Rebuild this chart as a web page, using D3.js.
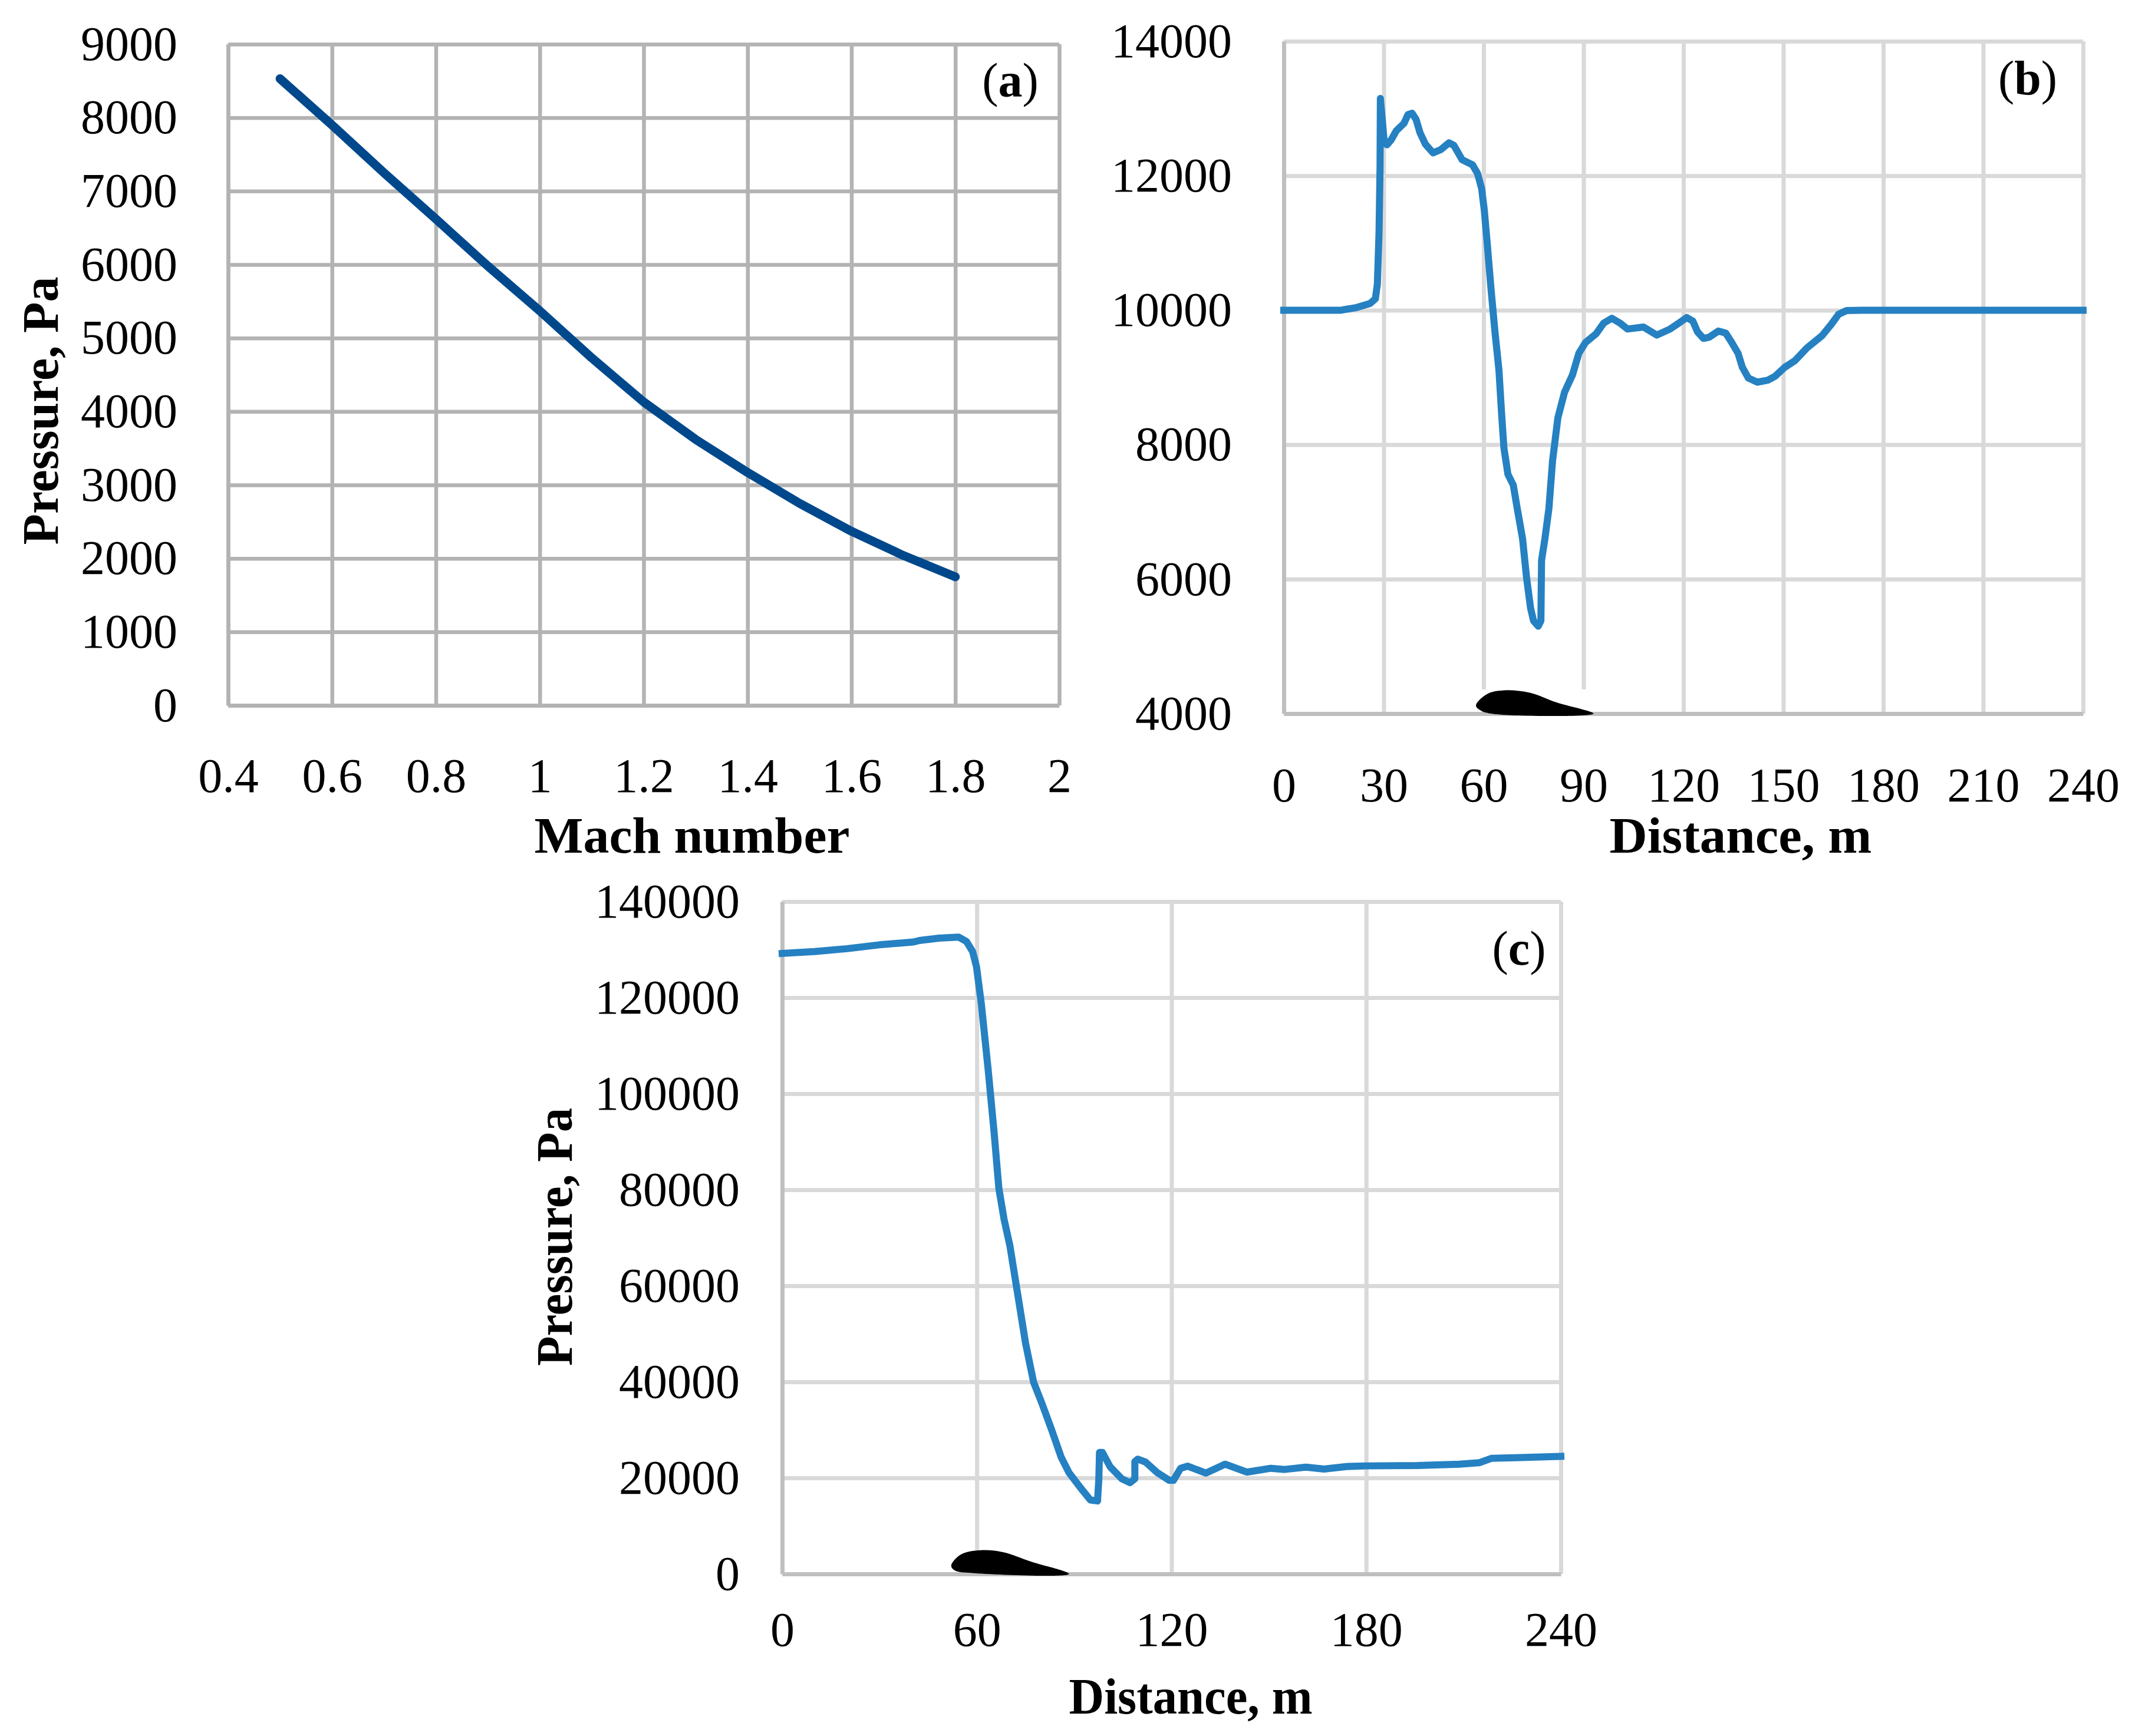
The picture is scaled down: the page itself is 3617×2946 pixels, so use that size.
<!DOCTYPE html>
<html><head><meta charset="utf-8">
<script src="https://cdn.jsdelivr.net/npm/d3@7"></script>
<style>html,body{margin:0;background:#fff}svg{display:block}text{font-family:"Liberation Serif",serif;fill:#000}</style>
</head><body><svg id="c" width="3617" height="2946"></svg>
<script>
const machNumber=[0.5,0.6,0.7,0.8,0.9,1.0,1.1,1.2,1.3,1.4,1.5,1.6,1.7,1.8];
const pressureA=[8530,7900,7250,6620,5980,5370,4730,4130,3620,3170,2750,2370,2040,1750];
const distanceB=[0,17.2,21.9,25.9,27.5,28.1,28.6,28.9,29,30.2,31,32.2,33.8,36.1,37.3,38.5,39.7,40.9,42.5,44.8,47.2,49.6,51.1,53.5,56.7,58.2,59.4,60.2,61,62.2,63.4,64.6,65.4,66.1,67.3,68.9,70.1,71.7,72.9,74.1,75,76.4,77.2,77.4,78.4,79.6,80.7,82.3,84.3,86.7,88.6,90.6,93.8,96.1,98.5,100.9,103.2,108,112,116,118.7,121,122.8,124.2,126,127.8,130.5,132.7,134.5,136.4,137.7,139.5,142.2,145.4,147.6,150.4,153.5,157.1,161.6,164.4,166.6,169,173.4,180,190,200,210,240];
const pressureB=[10000,10000,10040,10100,10170,10390,11160,12130,13150,12480,12460,12530,12670,12780,12910,12930,12840,12640,12470,12340,12390,12490,12450,12240,12160,12030,11810,11490,11040,10330,9680,9110,8460,7950,7560,7400,7050,6600,6020,5570,5380,5300,5380,6280,6600,7050,7760,8400,8780,9040,9360,9520,9650,9810,9880,9810,9720,9750,9630,9720,9810,9890,9840,9680,9580,9600,9690,9660,9520,9360,9150,8990,8930,8960,9020,9150,9250,9440,9620,9790,9940,9995,10000,10000,10000,10000,10000,10000];
const distanceC=[0,10,20,30,40.5,42.3,48.4,54.4,56.8,58.7,59.9,61.4,63.5,65.3,66.8,68.4,70.2,72.6,75,77.5,79.9,82.9,86,88.4,92,95,97.2,97.6,97.8,98.7,101.1,104.7,107.2,108.7,108.7,109.6,112,115.6,119.3,120.6,122.8,125,130.6,136.5,143.2,150.6,154.9,161.4,167,173.9,180,195.7,208.7,214.8,218.7,226,240];
const pressureC=[129200,129600,130200,131000,131600,131900,132400,132600,131700,129600,126400,118600,104900,92100,80200,73800,68300,58200,48100,39900,35800,30300,24300,21100,17900,15400,15200,19800,25300,25300,22300,19800,19000,19800,23400,23900,23300,21100,19500,19500,22000,22450,21000,22860,21200,22000,21760,22250,21840,22370,22500,22580,22860,23150,24090,24200,24500];
const foilXB=[57.7,59,62.2,93,81.9,74,66.1,61,57.7];
const foilYB=[4122,4050,4000,4000,4167,4310,4347,4290,4122];
const foilXC=[52.1,53.2,58.7,88.4,76.8,67.8,61.1,55,52.1];
const foilYC=[1740,730,180,0,2560,4580,4940,4030,1740];
const ticksAx=[0.4,0.6,0.8,1,1.2,1.4,1.6,1.8,2];
const ticksAy=[0,1000,2000,3000,4000,5000,6000,7000,8000,9000];
const ticksBx=[0,30,60,90,120,150,180,210,240];
const ticksBy=[4000,6000,8000,10000,12000,14000];
const ticksCx=[0,60,120,180,240];
const ticksCy=[0,20000,40000,60000,80000,100000,120000,140000];

const svg=d3.select('#c');
const FS=82;
function panel(o){
  const x=d3.scaleLinear().domain(o.xd).range([o.l,o.r]);
  const y=d3.scaleLinear().domain(o.yd).range([o.b,o.t]);
  const g=svg.append('g');
  // grid
  const gx=g.append('g').attr('transform',`translate(0,${o.t})`)
    .call(d3.axisBottom(x).tickValues(o.tx).tickSize(o.b-o.t).tickFormat(''));
  gx.select('.domain').remove();
  gx.selectAll('line').attr('stroke',o.grid).attr('stroke-width',o.gw);
  const gy=g.append('g').attr('transform',`translate(${o.r},0)`)
    .call(d3.axisLeft(y).tickValues(o.ty).tickSize(o.r-o.l).tickFormat(''));
  gy.select('.domain').remove();
  gy.selectAll('line').attr('stroke',o.grid).attr('stroke-width',o.gw);
  // white box behind the airfoil
  if(o.box){
    g.append('rect').attr('x',x(o.box[0])).attr('width',x(o.box[1])-x(o.box[0]))
     .attr('y',y(o.box[2])).attr('height',y(o.box[3])-y(o.box[2])).attr('fill','#fff');
  }
  // labelled axes
  const ax=g.append('g').attr('transform',`translate(0,${o.b})`)
    .call(d3.axisBottom(x).tickValues(o.tx).tickSize(0).tickPadding(o.xpad).tickFormat(d=>String(d)));
  ax.select('.domain').attr('stroke',o.axis).attr('stroke-width',o.aw);
  ax.selectAll('text').attr('font-size',FS).attr('dy','0.355em').attr('y',o.xlab);
  const ay=g.append('g').attr('transform',`translate(${o.l},0)`)
    .call(d3.axisLeft(y).tickValues(o.ty).tickSize(0).tickPadding(o.ypad).tickFormat(d=>String(d)));
  ay.select('.domain').attr('stroke',o.axis).attr('stroke-width',o.aw);
  ay.selectAll('text').attr('font-size',FS);
  // airfoil
  if(o.fx){
    const pts=o.fx.map((v,i)=>[x(v),y(o.fy[i])]);
    g.append('path').attr('d',d3.line().curve(d3.curveCatmullRomClosed.alpha(0.5))(pts.slice(0,-1))).attr('fill','#000');
  }
  // data
  g.append('path').attr('d',d3.line().x(d=>x(d[0])).y(d=>y(d[1])).curve(d3.curveLinear)(o.xs.map((v,i)=>[v,o.ys[i]])))
    .attr('fill','none').attr('stroke',o.color).attr('stroke-width',o.lw)
    .attr('stroke-linecap',o.cap).attr('stroke-linejoin','round');
  // titles
  g.append('text').attr('x',o.xt[0]).attr('y',o.xt[1]).attr('text-anchor','middle')
    .attr('font-size',86).attr('font-weight','bold').attr('textLength',o.xt[2]).attr('lengthAdjust','spacingAndGlyphs').text(o.xlabel);
  if(o.yt){
    g.append('text').attr('transform',`translate(${o.yt[0]},${o.yt[1]}) rotate(-90)`).attr('text-anchor','middle')
      .attr('font-size',86).attr('font-weight','bold').attr('textLength',o.yt[2]).attr('lengthAdjust','spacingAndGlyphs').text('Pressure, Pa');
  }
  const tag=g.append('text').attr('x',o.tag[0]).attr('y',o.tag[1]).attr('text-anchor','middle').attr('font-size',FS);
  tag.append('tspan').text('(');
  tag.append('tspan').attr('font-weight','bold').text(o.tag[2]);
  tag.append('tspan').text(')');
}
panel({xd:[0.4,2],yd:[0,9000],l:387,r:1797,t:75,b:1197,tx:ticksAx,ty:ticksAy,grid:'#b3b3b3',axis:'#b3b3b3',gw:6.5,aw:6.5,
  xs:machNumber,ys:pressureA,color:'#00488c',lw:15,cap:'round',xlab:118,xpad:0,ypad:86,
  xlabel:'Mach number',xt:[1174,1447,535],yt:[98,697,455],tag:[1714,164,'a']});
panel({xd:[0,240],yd:[4000,14000],l:2178,r:3534,t:70,b:1211,tx:ticksBx,ty:ticksBy,grid:'#d9d9d9',axis:'#bfbfbf',gw:7,aw:7,
  xs:distanceB,ys:pressureB,color:'#2581c2',lw:12,cap:'square',xlab:120,xpad:0,ypad:88,
  fx:foilXB,fy:foilYB,box:[57.5,94.2,4360,4000],
  xlabel:'Distance, m',xt:[2953,1447,445],tag:[3440,160,'b']});
panel({xd:[0,240],yd:[0,140000],l:1327,r:2648,t:1530,b:2671,tx:ticksCx,ty:ticksCy,grid:'#d9d9d9',axis:'#bfbfbf',gw:7,aw:7,
  xs:distanceC,ys:pressureC,color:'#2581c2',lw:12,cap:'square',xlab:93,xpad:0,ypad:72,
  fx:foilXC,fy:foilYC,
  xlabel:'Distance, m',xt:[2020,2908,413],yt:[970,2099,438],tag:[2577,1637,'c']});
</script></body></html>
